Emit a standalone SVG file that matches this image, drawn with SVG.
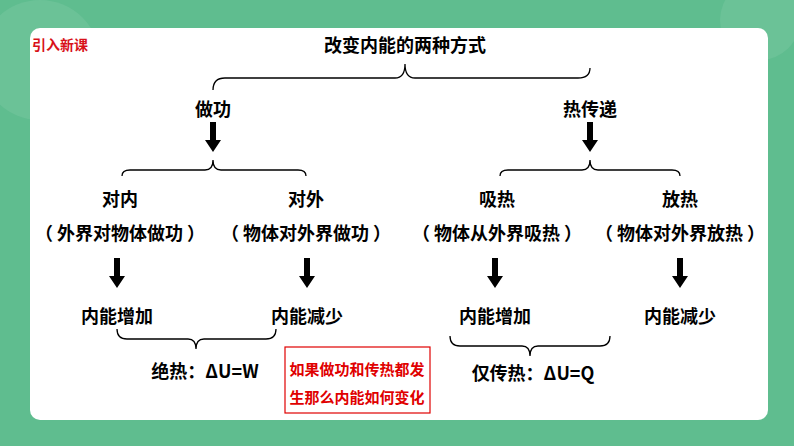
<svg xmlns="http://www.w3.org/2000/svg" width="794" height="446" viewBox="0 0 794 446">
<style>
text{font-family:"Noto Sans CJK SC","Liberation Sans",sans-serif;font-weight:bold;fill:#000;text-anchor:middle}
.t{font-size:18px}
.r{fill:#e00000;font-size:15px}
.b{fill:none;stroke:#000;stroke-width:1.3}
</style>
<defs>
<path id="arr" d="M-3,0 H3 V18 H8 L0,30 L-8,18 H-3 Z" fill="#000"/>
</defs>
<rect width="794" height="446" fill="#5fbd8f"/>
<circle cx="40" cy="60" r="60" fill="#ffffff" opacity="0.08"/>
<circle cx="760" cy="20" r="40" fill="#ffffff" opacity="0.08"/>
<rect x="30" y="28" width="738" height="392" rx="10" fill="#fff"/>
<rect x="0" y="420" width="794" height="26" fill="#5fbd8f"/>
<text x="60" y="50" style="font-size:14px;fill:#d8121a">引入新课</text>
<g id="title"><text class="t" x="405" y="52">改变内能的两种方式</text></g>
<g id="connectors">
<path class="b" d="M213,90 Q213,78 225,78 H395 Q405,78 405,64 Q405,78 415,78 H578 Q590,78 590,68"/>
<path class="b" d="M122,176 Q122,170 130,170 H205 Q213,170 213,160 Q213,170 221,170 H298 Q306,170 306,176"/>
<path class="b" d="M500,176 Q500,170 508,170 H582 Q590,170 590,160 Q590,170 598,170 H672 Q680,170 680,176"/>
<path class="b" d="M117,329 Q117,339 127,339 H188 Q196,339 196,349 Q196,339 204,339 H266 Q276,339 276,329"/>
<path class="b" d="M450,336 Q450,346 460,346 H522 Q530,346 530,356 Q530,346 538,346 H600 Q610,346 610,336"/>
<use href="#arr" x="213" y="122"/>
<use href="#arr" x="590" y="122"/>
<use href="#arr" x="117" y="258"/>
<use href="#arr" x="307" y="258"/>
<use href="#arr" x="495" y="258"/>
<use href="#arr" x="680" y="258"/>
</g>
<g id="n-zg"><text class="t" x="213" y="116">做功</text></g>
<g id="n-rcd"><text class="t" x="590" y="116">热传递</text></g>
<g id="n-dn"><text class="t" x="120" y="206">对内</text><text class="t" x="120" y="240">（ 外界对物体做功 ）</text></g>
<g id="n-dw"><text class="t" x="306" y="206">对外</text><text class="t" x="306" y="240">（ 物体对外界做功 ）</text></g>
<g id="n-xr"><text class="t" x="497" y="206">吸热</text><text class="t" x="497" y="240">（ 物体从外界吸热 ）</text></g>
<g id="n-fr"><text class="t" x="680" y="206">放热</text><text class="t" x="680" y="240">（ 物体对外界放热 ）</text></g>
<g id="n-z1"><text class="t" x="117" y="323">内能增加</text></g>
<g id="n-j1"><text class="t" x="307" y="323">内能减少</text></g>
<g id="n-z2"><text class="t" x="495" y="323">内能增加</text></g>
<g id="n-j2"><text class="t" x="680" y="323">内能减少</text></g>
<g id="n-jr"><text class="t" x="205" y="378">绝热：ΔU=W</text></g>
<g id="n-cr"><text class="t" x="533" y="380">仅传热：ΔU=Q</text></g>
<g id="n-q"><rect x="285" y="347" width="145" height="66" fill="#fff" stroke="#e00000" stroke-width="1.2"/>
<text class="r" x="357" y="375">如果做功和传热都发</text><text class="r" x="357" y="403">生那么内能如何变化</text></g>
</svg>
